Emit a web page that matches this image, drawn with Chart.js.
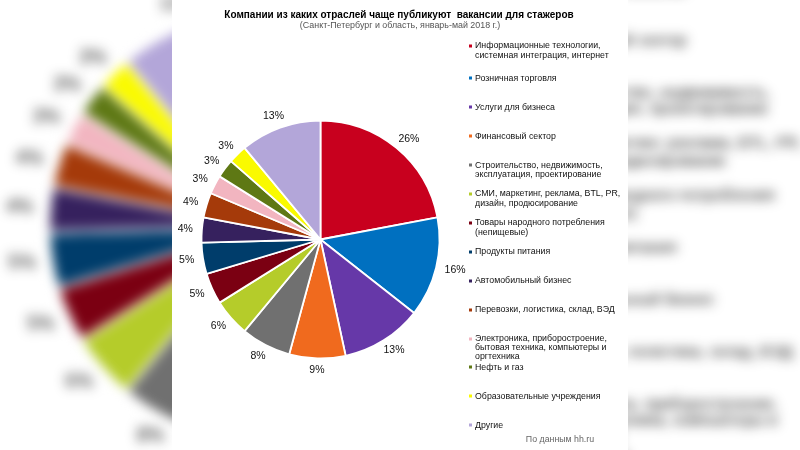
<!DOCTYPE html>
<html>
<head>
<meta charset="utf-8">
<script src="https://cdn.jsdelivr.net/npm/chart.js@4.4.1/dist/chart.umd.min.js"></script>
<style>
  html, body { margin: 0; padding: 0; background: #fff; overflow: hidden; }
  #stage { position: relative; width: 800px; height: 450px; overflow: hidden; background: #fff; }
  #bgwrap { position: absolute; left: 0; top: 0; width: 800px; height: 450px; filter: blur(6px); }
  #bg { position: absolute; left: 0; top: 0; transform-origin: 392.5px 256px; transform: scale(1.8); }
  #panel { position: absolute; left: 172px; top: 0; width: 456px; height: 450px; background: #fff; }
  #fg { position: absolute; left: 0; top: 0; }
</style>
</head>
<body>
<div id="stage">
  <div id="bgwrap"><canvas id="bg" width="800" height="450"></canvas></div>
  <div id="panel"></div>
  <canvas id="fg" width="800" height="450"></canvas>
</div>
<script>
const title = "Компании из каких отраслей чаще публикуют  вакансии для стажеров";
const subtitle = "(Санкт-Петербург и область, январь-май 2018 г.)";
const source = "По данным hh.ru";

const categories = [
  ["Информационные технологии,", "системная интеграция, интернет"],
  ["Розничная торговля"],
  ["Услуги для бизнеса"],
  ["Финансовый сектор"],
  ["Строительство, недвижимость,", "эксплуатация, проектирование"],
  ["СМИ, маркетинг, реклама, BTL, PR,", "дизайн, продюсирование"],
  ["Товары народного потребления", "(непищевые)"],
  ["Продукты питания"],
  ["Автомобильный бизнес"],
  ["Перевозки, логистика, склад, ВЭД"],
  ["Электроника, приборостроение,", "бытовая техника, компьютеры и", "оргтехника"],
  ["Нефть и газ"],
  ["Образовательные учреждения"],
  ["Другие"]
];
const shares = [26, 16, 13, 9, 8, 6, 5, 5, 4, 4, 3, 3, 3, 13];
const colors = [
  "#C8001E", "#0070C0", "#6638A8", "#F06A1E", "#707070", "#B5CC2A", "#7B0012",
  "#003D6B", "#36215E", "#A53A0A", "#F2B5C0", "#5E7814", "#FAFA00", "#B3A6D9"
];

const FONT = "'Liberation Sans', Arial, sans-serif";

const decorPlugin = {
  id: "decor",
  afterDatasetsDraw(chart) {
    const ctx = chart.ctx;
    const meta = chart.getDatasetMeta(0);
    const ds = chart.data.datasets[0];
    ctx.save();
    // slice labels
    ctx.font = "10.5px " + FONT;
    ctx.fillStyle = "#111";
    ctx.textAlign = "center";
    ctx.textBaseline = "middle";
    meta.data.forEach((arc, i) => {
      const p = arc.getProps(["x", "y", "startAngle", "endAngle", "outerRadius"], true);
      const a = (p.startAngle + p.endAngle) / 2;
      const txt = ds.data[i] + "%";
      const hw = ctx.measureText(txt).width / 2 + 2;
      const hh = 5;
      const g = 7;
      const x = p.x + Math.cos(a) * (p.outerRadius + g + hw);
      const y = p.y + Math.sin(a) * (p.outerRadius + g + hh);
      ctx.fillText(txt, x, y);
    });
    // title
    ctx.fillStyle = "#000";
    ctx.font = "bold 10px " + FONT;
    ctx.fillText(title, 399, 15);
    ctx.fillStyle = "#555";
    ctx.font = "8.9px " + FONT;
    ctx.fillText(subtitle, 400, 25.5);
    // legend
    ctx.textAlign = "left";
    ctx.font = "8.8px " + FONT;
    chart.data.labels.forEach((lines, i) => {
      const y0 = 49.5 + 28.9 * i - (i === 0 ? 3.5 : 0);
      ctx.fillStyle = colors[i];
      ctx.fillRect(469, Math.round(y0) - 1.5, 3, 3);
      ctx.fillStyle = "#111";
      lines.forEach((ln, k) => {
        ctx.fillText(ln, 475, y0 + k * 9.2);
      });
    });
    ctx.fillStyle = "#666";
    ctx.textAlign = "center";
    ctx.fillText(source, 560, 440);
    ctx.restore();
  }
};

function makeChart(id) {
  return new Chart(document.getElementById(id), {
    type: "pie",
    data: {
      labels: categories,
      datasets: [{
        data: shares,
        backgroundColor: colors,
        borderColor: "#ffffff",
        borderWidth: 1.8
      }]
    },
    options: {
      responsive: false,
      animation: false,
      radius: 119,
      layout: { padding: { left: 170.5, right: 329.5, top: 89.5, bottom: 60.5 } },
      plugins: {
        legend: { display: false },
        tooltip: { enabled: false },
        title: { display: false }
      }
    },
    plugins: [decorPlugin]
  });
}

makeChart("bg");
makeChart("fg");
</script>
</body>
</html>
